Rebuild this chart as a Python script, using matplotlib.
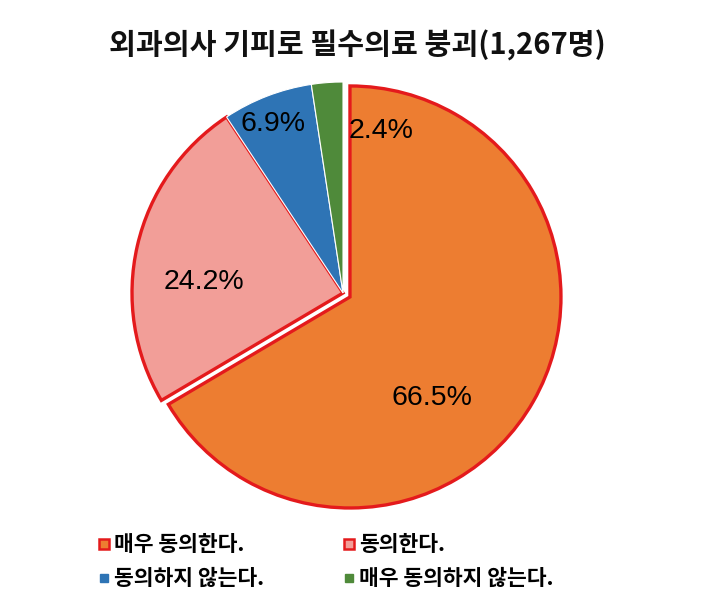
import matplotlib
matplotlib.use("Agg")
import matplotlib.pyplot as plt
from matplotlib.lines import Line2D

plt.rcParams['font.family'] = ['Noto Sans CJK KR', 'DejaVu Sans']

title = "외과의사 기피로 필수의료 붕괴(1,267명)"
categories = ["매우 동의한다.", "동의한다.", "동의하지 않는다.", "매우 동의하지 않는다."]
values = [66.5, 24.2, 6.9, 2.4]
labels = ["66.5%", "24.2%", "6.9%", "2.4%"]
colors = ["#ED7D31", "#F29E98", "#2E74B5", "#4F8A3A"]
edge_colors = ["#E41A1C", "#E41A1C", "white", "white"]
edge_widths = [2.4, 2.4, 0.8, 0.8]
explode = [0.038, 0, 0, 0]
label_pos = [(0.42, -0.50), (-0.66, 0.05), (-0.33, 0.80), (0.18, 0.77)]

W, H = 718, 607
fig = plt.figure(figsize=(W / 100, H / 100), dpi=100)

R = 211.0
cx, cy = 343, 293
half = 260
ax = fig.add_axes([(cx - half) / W, (H - cy - half) / H, 2 * half / W, 2 * half / H])

wedges, _ = ax.pie(values, colors=colors, startangle=90, counterclock=False,
                   explode=explode, radius=1.0)
for w, ec, lw in zip(wedges, edge_colors, edge_widths):
    w.set_edgecolor(ec)
    w.set_linewidth(lw)
    w.set_joinstyle('miter')

lim = half / R
ax.set_xlim(-lim, lim)
ax.set_ylim(-lim, lim)
ax.set_aspect('equal')
ax.axis('off')

for lab, (x, y) in zip(labels, label_pos):
    ax.text(x, y, lab, ha='center', va='center', fontsize=20.5,
            family=['Liberation Sans', 'DejaVu Sans'], color='black')

fig.text(357 / W, 1 - 45 / H, title, ha='center', va='center', fontsize=21,
         fontweight='bold', color='#111111')

handles = []
for c, ec in zip(colors, edge_colors):
    if ec == 'white':
        handles.append(Line2D([], [], marker='s', linestyle='none', markersize=6,
                              markerfacecolor=c, markeredgecolor=c))
    else:
        handles.append(Line2D([], [], marker='s', linestyle='none', markersize=6.5,
                              markerfacecolor=c, markeredgecolor=ec, markeredgewidth=1.8))

order = [0, 2, 1, 3]
leg = fig.legend([handles[i] for i in order], [categories[i] for i in order],
                 ncol=2, loc='upper left',
                 bbox_to_anchor=(80 / W, 1 - 515 / H), frameon=False,
                 prop={'size': 15.5, 'weight': 'bold'}, handlelength=0.45,
                 handletextpad=0.25, columnspacing=3.7, labelspacing=0.6)

fig.savefig("out.png", dpi=100, facecolor='white')
